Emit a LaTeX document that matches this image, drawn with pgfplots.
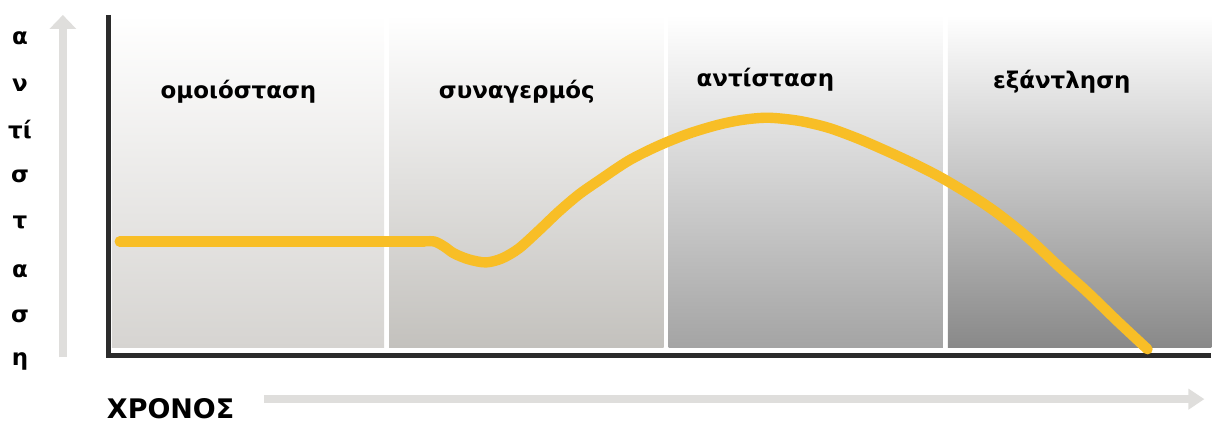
\documentclass[border=0pt]{standalone}
\usepackage{fontspec}
\setmainfont{DejaVu Sans}
\usepackage{pgfplots}
\pgfplotsset{compat=1.18}
\usetikzlibrary{arrows.meta}
\definecolor{curve}{HTML}{F8BE26}
\definecolor{pA}{HTML}{D6D4D1}
\definecolor{pB}{HTML}{C3C1BD}
\definecolor{pC}{HTML}{A4A4A4}
\definecolor{pD}{HTML}{898989}
\definecolor{frame}{HTML}{2B2B2B}
\definecolor{arr}{HTML}{DFDEDC}
\begin{document}
\begin{tikzpicture}
\begin{axis}[
  scale only axis, width=607pt, height=210.5pt,
  xmin=0, xmax=1214, ymin=0, ymax=421,
  hide axis, clip=false,
]
\path (axis cs:0,0) rectangle (axis cs:1214,421);
% panels
\addplot[draw=none, top color=white, bottom color=pA] coordinates {(112,73) (385,73) (385,406) (112,406)} -- cycle;
\addplot[draw=none, top color=white, bottom color=pB] coordinates {(390,73) (665,73) (665,406) (390,406)} -- cycle;
\addplot[draw=none, top color=white, bottom color=pC] coordinates {(670,73) (945,73) (945,406) (670,406)} -- cycle;
\addplot[draw=none, top color=white, bottom color=pD] coordinates {(950,73) (1214,73) (1214,406) (950,406)} -- cycle;
% frame
\draw[frame, line width=2.6pt] (axis cs:109,406) -- (axis cs:109,65) -- (axis cs:1214,65);
% curve
\addplot[curve, line width=5.2pt, line cap=round] coordinates {(120,179) (425,179)};
\addplot[curve, line width=5.2pt, smooth, tension=0.5, line cap=round] coordinates {
(420,179) (435,179) (445,174) (455,167) (470,161) (487,158) (503,162) (520,172)
(540,190) (560,209) (580,226) (600,240) (630,260) (660,275) (690,287) (720,296)
(745,301) (770,303) (800,300) (830,293) (860,282) (890,269) (920,255) (945,242)
(975,224) (1000,207) (1030,183) (1060,155) (1090,128) (1120,99) (1150,71)
};
% panel labels
\node[font=\fontsize{11.5}{13}\selectfont\bfseries] at (axis cs:239,329) {ομοιόσταση};
\node[font=\fontsize{11.5}{13}\selectfont\bfseries] at (axis cs:518,329) {συναγερμός};
\node[font=\fontsize{11.5}{13}\selectfont\bfseries] at (axis cs:767,341) {αντίσταση};
\node[font=\fontsize{11.5}{13}\selectfont\bfseries] at (axis cs:1064,339) {εξάντληση};
% y arrow and label
\draw[arr, line width=4pt, -{Triangle[width=13pt,length=7pt]}] (axis cs:63,63) -- (axis cs:63,406);
\node[font=\fontsize{11.5}{13}\selectfont\bfseries] at (axis cs:20,383) {α};
\node[font=\fontsize{11.5}{13}\selectfont\bfseries] at (axis cs:20,336) {ν};
\node[font=\fontsize{11.5}{13}\selectfont\bfseries] at (axis cs:20,291) {τί};
\node[font=\fontsize{11.5}{13}\selectfont\bfseries] at (axis cs:20,244) {σ};
\node[font=\fontsize{11.5}{13}\selectfont\bfseries] at (axis cs:20,198) {τ};
\node[font=\fontsize{11.5}{13}\selectfont\bfseries] at (axis cs:20,149) {α};
\node[font=\fontsize{11.5}{13}\selectfont\bfseries] at (axis cs:20,104) {σ};
\node[font=\fontsize{11.5}{13}\selectfont\bfseries] at (axis cs:20,59) {η};
% x arrow and label
\draw[arr, line width=4pt, -{Triangle[width=10pt,length=8pt]}] (axis cs:265,21) -- (axis cs:1207,21);
\node[font=\fontsize{13.5}{15}\selectfont\bfseries] at (axis cs:171,11) {ΧΡΟΝΟΣ};
\end{axis}
\end{tikzpicture}
\end{document}
